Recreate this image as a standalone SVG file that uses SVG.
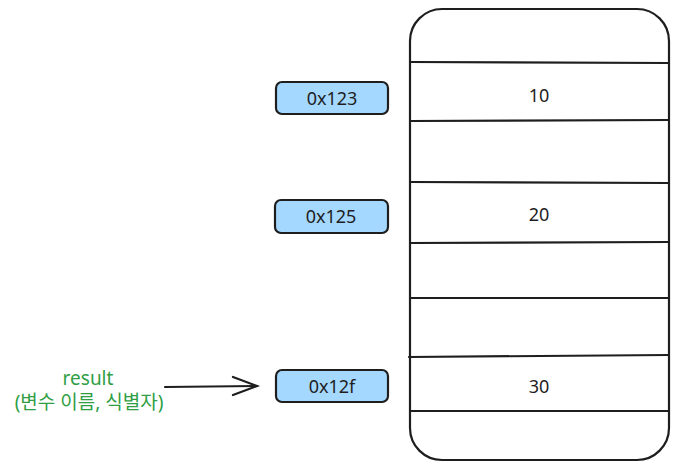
<svg xmlns="http://www.w3.org/2000/svg" width="680" height="469" viewBox="0 0 680 469">
<style>
.ln{stroke:#1e1e1e;stroke-width:2.2;fill:none;stroke-linecap:round}
.addr{fill:#a5d8ff;stroke:#1e1e1e;stroke-width:2.2}
.t{font-family:"Noto Sans","Noto Sans CJK KR",sans-serif;font-size:18px;fill:#1e1e1e;text-anchor:middle;dominant-baseline:central}
.g{font-family:"Noto Sans","Noto Sans CJK KR",sans-serif;font-size:19px;fill:#2f9e44;text-anchor:middle}
</style>
<rect width="680" height="469" fill="#ffffff"/>
<g id="memory">
<rect x="410" y="9" width="259" height="451" rx="32" class="ln"/>
<line x1="410" y1="62" x2="669" y2="63" class="ln"/>
<line x1="410" y1="121" x2="669" y2="120" class="ln"/>
<line x1="410" y1="182" x2="669" y2="183" class="ln"/>
<line x1="410" y1="243" x2="669" y2="242" class="ln"/>
<line x1="410" y1="298" x2="669" y2="298" class="ln"/>
<line x1="409" y1="357" x2="669" y2="355" class="ln"/>
<line x1="410" y1="411" x2="669" y2="411" class="ln"/>
<text x="539" y="95" class="t">10</text>
<text x="539" y="214" class="t">20</text>
<text x="539" y="386" class="t">30</text>
</g>
<g id="addr1">
<rect x="276" y="82" width="112" height="32" rx="6" class="addr"/>
<text x="332" y="98" class="t">0x123</text>
</g>
<g id="addr2">
<rect x="275" y="200" width="113" height="33" rx="6" class="addr"/>
<text x="331" y="216" class="t">0x125</text>
</g>
<g id="addr3">
<rect x="276" y="370" width="112" height="32" rx="6" class="addr"/>
<text x="332" y="386" class="t">0x12f</text>
</g>
<g id="label">
<text x="88" y="385" class="g">result</text>
<text x="89" y="409" class="g">(변수 이름, 식별자)</text>
</g>
<g id="connectors">
<line x1="165" y1="387" x2="257" y2="386" class="ln"/>
<polyline points="233,377 257,386 233,395" class="ln"/>
</g>
</svg>
